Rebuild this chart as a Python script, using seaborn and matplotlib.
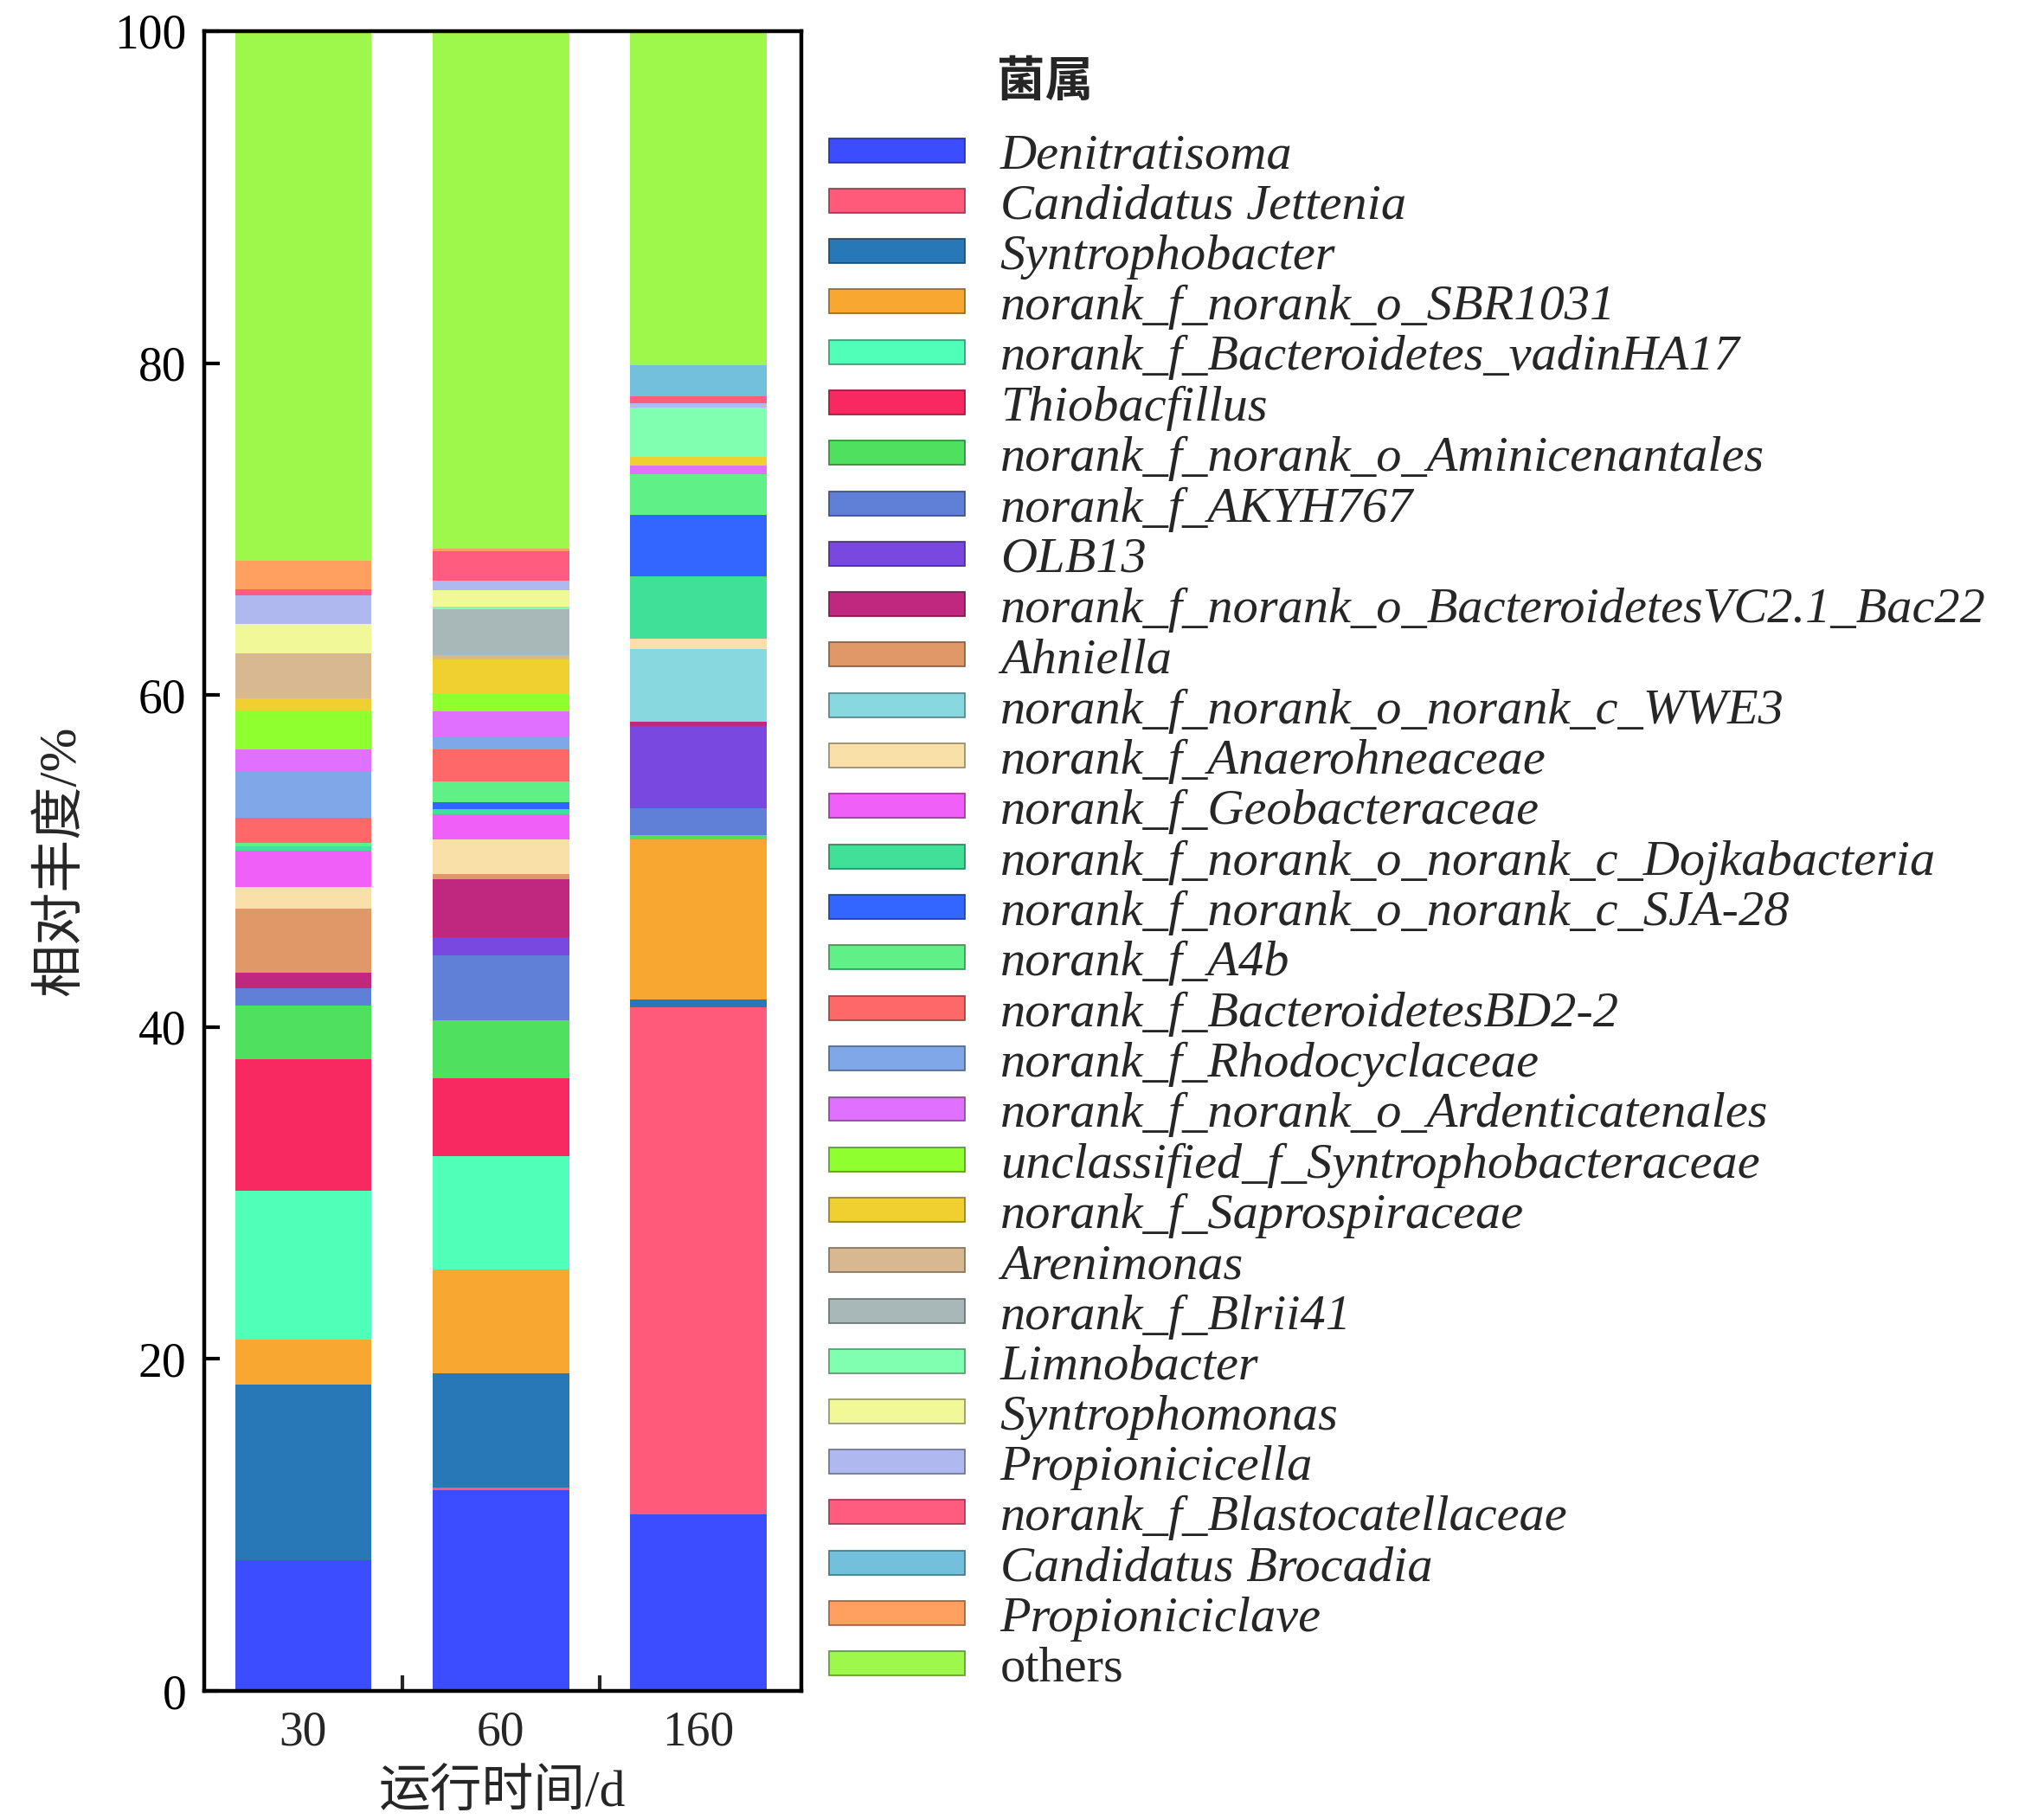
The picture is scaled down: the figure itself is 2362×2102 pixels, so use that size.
import numpy as np
import pandas as pd
import matplotlib
matplotlib.use("Agg")
import matplotlib.pyplot as plt
import matplotlib.colors as mcolors
from matplotlib.patches import Patch
import seaborn as sns

days = ["30", "60", "160"]

genera = [
    "Denitratisoma", "Candidatus Jettenia", "Syntrophobacter",
    "norank_f_norank_o_SBR1031", "norank_f_Bacteroidetes_vadinHA17",
    "Thiobacfillus", "norank_f_norank_o_Aminicenantales", "norank_f_AKYH767",
    "OLB13", "norank_f_norank_o_BacteroidetesVC2.1_Bac22", "Ahniella",
    "norank_f_norank_o_norank_c_WWE3", "norank_f_Anaerohneaceae",
    "norank_f_Geobacteraceae", "norank_f_norank_o_norank_c_Dojkabacteria",
    "norank_f_norank_o_norank_c_SJA-28", "norank_f_A4b",
    "norank_f_BacteroidetesBD2-2", "norank_f_Rhodocyclaceae",
    "norank_f_norank_o_Ardenticatenales", "unclassified_f_Syntrophobacteraceae",
    "norank_f_Saprospiraceae", "Arenimonas", "norank_f_Blrii41", "Limnobacter",
    "Syntrophomonas", "Propionicicella", "norank_f_Blastocatellaceae",
    "Candidatus Brocadia", "Propioniciclave", "others",
]

colors = [
    "#3c4cff", "#ff5a7a", "#2878b8", "#f8a830", "#50ffb8", "#f82860",
    "#50e060", "#6080d8", "#7848e0", "#c02880", "#e09868", "#88d8e0",
    "#f8e0a8", "#f060f8", "#40e098", "#3366ff", "#60f088", "#ff6868",
    "#80a8e8", "#e070ff", "#90ff30", "#f0d030", "#d8b890", "#a8b8b8",
    "#80ffb0", "#f0f898", "#b0b8f0", "#ff5c80", "#72c0dc", "#ffa060",
    "#9ef84c",
]

abund_30 = [7.86, 0.0, 10.61, 2.68, 8.96, 7.97, 3.22, 1.04, 0.0, 0.93, 3.86,
            0.0, 1.30, 2.18, 0.25, 0.0, 0.25, 1.47, 2.82, 1.30, 2.34, 0.76,
            2.73, 0.0, 0.0, 1.73, 1.74, 0.35, 0.0, 1.73, 31.92]
abund_60 = [12.10, 0.15, 6.90, 6.25, 6.84, 4.68, 3.51, 3.88, 1.09, 3.52, 0.30,
            0.0, 2.06, 1.51, 0.35, 0.40, 1.25, 1.91, 0.83, 1.50, 1.04, 2.08,
            0.26, 2.74, 0.20, 0.96, 0.60, 1.73, 0.0, 0.20, 31.16]
abund_160 = [10.65, 30.56, 0.47, 9.63, 0.0, 0.0, 0.25, 1.61, 4.94, 0.30, 0.0,
             4.36, 0.62, 0.0, 3.76, 3.72, 2.43, 0.0, 0.0, 0.52, 0.0, 0.52,
             0.0, 0.0, 2.98, 0.0, 0.25, 0.40, 1.90, 0.0, 20.13]

df = pd.DataFrame({
    "day": np.repeat(days, len(genera)),
    "genus": genera * 3,
    "value": abund_30 + abund_60 + abund_160,
})

sns.set_style("ticks")
plt.rcParams["font.family"] = ["Liberation Serif", "Noto Sans CJK SC"]
plt.rcParams["axes.linewidth"] = 3.2
plt.rcParams["axes.edgecolor"] = "black"

fig = plt.figure(figsize=(23.62, 21.02), dpi=100)
ax = fig.add_axes([0.1, 0.0704, 0.292, 0.9125])

bottom = np.zeros(len(days))
for g, c in zip(genera, colors):
    sub = df[df["genus"] == g]
    vals = sub.set_index("day").loc[days, "value"].to_numpy()
    sns.barplot(data=sub, x="day", y="value", order=days, color=c,
                saturation=1, width=0.69, errorbar=None, bottom=bottom,
                linewidth=0, edgecolor="none", ax=ax)
    bottom = bottom + vals

ax.set_xlim(-0.5, 2.52)
ax.set_ylim(0, 100)
ax.set_yticks([0, 20, 40, 60, 80, 100])
ax.tick_params(axis="y", direction="in", length=13, width=3, labelsize=40,
               pad=15, colors="black")
ax.tick_params(axis="x", which="major", length=0, labelsize=40, pad=16)
ax.set_xticks([0.5, 1.5], minor=True)
ax.tick_params(axis="x", which="minor", direction="in", length=13, width=3)
for s in ax.spines.values():
    s.set_visible(True)
    s.set_linewidth(3.2)

ax.set_xlabel("运行时间/d", fontsize=43, labelpad=12)
ax.set_ylabel("相对丰度/%", fontsize=44, labelpad=24)

handles = []
for c in colors:
    rgb = np.array(mcolors.to_rgb(c))
    handles.append(Patch(facecolor=c, edgecolor=tuple(rgb * 0.6), linewidth=1.2))

leg = fig.legend(handles, genera, loc="upper left",
                 bbox_to_anchor=(0.4056, 0.9265), frameon=False, fontsize=42,
                 handlelength=2.69, handleheight=0.36, handletextpad=0.7,
                 labelspacing=0.105, borderpad=0, borderaxespad=0)
for t in leg.get_texts():
    if t.get_text() != "others":
        t.set_style("italic")

fig.text(0.4878, 0.955, "菌属", fontsize=40, fontweight="bold",
         family=["Noto Sans CJK SC"], va="center", ha="left")

fig.savefig("out.png", dpi=100)
